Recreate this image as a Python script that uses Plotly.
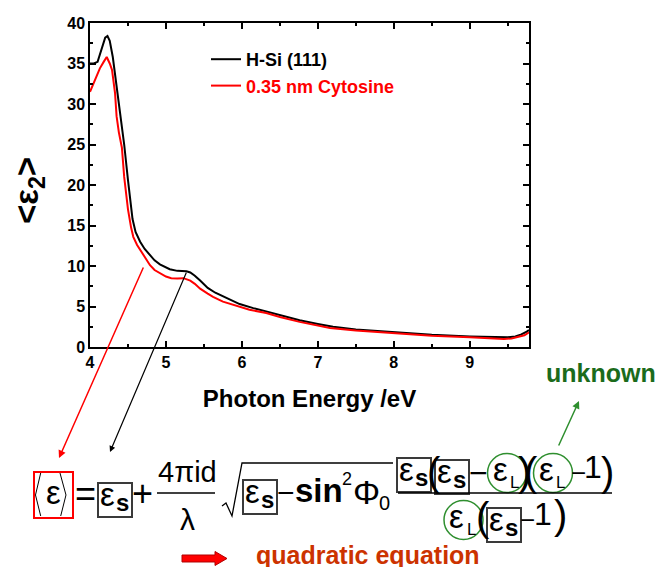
import plotly.graph_objects as go

# ---------------- data ----------------
energy_hsi = [4.00, 4.05, 4.10, 4.15, 4.20, 4.23, 4.26, 4.30, 4.35, 4.40, 4.45, 4.50, 4.53,
              4.56, 4.60, 4.66, 4.72, 4.79, 4.85, 4.92, 5.00, 5.05, 5.15, 5.27, 5.32, 5.38,
              5.45, 5.55, 5.65, 5.80, 5.97, 6.15, 6.32, 6.50, 6.76, 7.00, 7.20, 7.50, 8.00,
              8.50, 9.00, 9.30, 9.50, 9.60, 9.68, 9.75, 9.78]
eps2_hsi = [35.0, 35.0, 35.2, 36.8, 38.2, 38.4, 37.8, 35.8, 32.3, 28.7, 25.0, 20.6, 17.8,
            15.8, 14.2, 13.0, 12.1, 11.3, 10.7, 10.2, 9.8, 9.6, 9.4, 9.35, 9.2, 8.8,
            8.2, 7.3, 6.7, 6.0, 5.3, 4.8, 4.4, 3.9, 3.3, 2.85, 2.5, 2.15, 1.8,
            1.5, 1.3, 1.2, 1.2, 1.3, 1.55, 1.9, 2.1]

energy_cyt = [4.00, 4.05, 4.10, 4.13, 4.18, 4.22, 4.26, 4.29, 4.33, 4.35, 4.38, 4.42, 4.45,
              4.48, 4.50, 4.54, 4.57, 4.62, 4.66, 4.72, 4.79, 4.85, 4.92, 5.00, 5.07, 5.15,
              5.23, 5.32, 5.38, 5.45, 5.55, 5.62, 5.75, 5.89, 6.10, 6.32, 6.50, 6.76, 7.00,
              7.16, 7.50, 8.00, 8.50, 9.00, 9.30, 9.45, 9.55, 9.65, 9.72, 9.78]
eps2_cyt = [31.5, 32.6, 33.8, 34.4, 35.2, 35.8, 35.0, 34.2, 31.3, 28.5, 26.5, 24.6, 21.0,
            18.5, 17.0, 14.8, 13.6, 12.6, 12.0, 11.0, 10.1, 9.5, 9.1, 8.7, 8.5, 8.45,
            8.5, 8.2, 7.8, 7.2, 6.6, 6.2, 5.6, 5.2, 4.6, 4.2, 3.7, 3.1, 2.65,
            2.35, 2.05, 1.7, 1.4, 1.2, 1.05, 1.0, 1.05, 1.25, 1.45, 1.8]

series_names = ["H-Si (111)", "0.35 nm Cytosine"]
series_colors = ["black", "red"]
x_range = [4.0, 9.78]
y_range = [0, 40]

FONT = "Arial, 'Liberation Sans', sans-serif"
W, H = 657, 567
L, R, T, B = 90, 128, 23, 220
PW, PH = W - L - R, H - T - B
BOT = H - B


def px(x):
    return (x - L) / PW


def py(y):
    return (BOT - y) / PH


fig = go.Figure()
fig.add_trace(go.Scatter(x=energy_hsi, y=eps2_hsi, mode="lines",
                         name="<b>%s</b>" % series_names[0],
                         line=dict(color=series_colors[0], width=2)))
fig.add_trace(go.Scatter(x=energy_cyt, y=eps2_cyt, mode="lines",
                         name="<b><span style='color:red'>%s</span></b>" % series_names[1],
                         line=dict(color=series_colors[1], width=2)))

annotations = []
shapes = []


def txt(s, x, y, size, color="black", bold=False, lower=False, angle=0):
    yy = y - (0.087 * size if lower else 0)
    annotations.append(dict(
        text=("<b>%s</b>" % s) if bold else s,
        x=px(x), y=py(yy), xref="paper", yref="paper", showarrow=False,
        xanchor="center", yanchor="middle", textangle=angle,
        font=dict(size=size, color=color, family=FONT)))


def rect(x0, y0, x1, y1, color="#3a3a3a", width=2):
    shapes.append(dict(type="rect", xref="paper", yref="paper",
                       x0=px(x0), x1=px(x1), y0=py(y1), y1=py(y0),
                       line=dict(color=color, width=width)))


def circle(cx, cy, r, color="#2f8f2f", width=1.5):
    shapes.append(dict(type="circle", xref="paper", yref="paper",
                       x0=px(cx - r), x1=px(cx + r), y0=py(cy + r), y1=py(cy - r),
                       line=dict(color=color, width=width)))


def path(pts, color="black", width=1.3, fill=None, closed=False):
    d = "M " + " L ".join("%.5f,%.5f" % (px(a), py(b)) for a, b in pts)
    if closed:
        d += " Z"
    s = dict(type="path", xref="paper", yref="paper", path=d,
             line=dict(color=color, width=width))
    if fill:
        s["fillcolor"] = fill
    shapes.append(s)


def arrow(hx, hy, tx, ty, color, width=1.5):
    annotations.append(dict(
        text="", x=px(hx), y=py(hy), xref="paper", yref="paper",
        ax=tx - hx, ay=ty - hy, axref="pixel", ayref="pixel",
        showarrow=True, arrowhead=2, arrowsize=1, arrowwidth=width,
        arrowcolor=color))


def eps_s(bx, by):
    rect(bx, by, bx + 34, by + 34)
    txt("ε", bx + 9.5, by + 14, 33, lower=True)
    txt("s", bx + 24.5, by + 22, 24, bold=True, lower=True)


def eps_L(cx, cy):
    circle(cx, cy, 19.5)
    txt("ε", cx - 7, cy - 1, 33, lower=True)
    txt("L", cx + 7.5, cy + 9, 17)


# y axis title
txt("&lt;ε<sub>2</sub>&gt;", 29, 191, 33, bold=True, angle=-90)

# ---- formula ----
# <ε>
rect(34, 472, 73, 518, color="red", width=2)
path([(40.7, 473), (35.5, 495), (40.7, 516)], width=1)
path([(60, 473), (66, 495), (60.7, 516)], width=1)
txt("ε", 53, 495, 33, lower=True)
txt("=", 85.5, 493, 36)
eps_s(98, 483)
txt("+", 142.5, 493, 36)
txt("4πid", 187.5, 472, 29)
path([(157, 493), (215, 493)])
txt("λ", 187, 519, 30)
# sqrt
path([(222, 506), (226, 503), (232, 516), (242, 463), (393, 463)])
eps_s(243, 480)
txt("−", 285.5, 492, 30)
txt("sin", 318.5, 493, 33, bold=True, lower=True)
txt("2", 347, 479, 18)
txt("Φ", 366, 492.5, 34)
txt("0", 384.5, 503, 20)
# numerator
eps_s(397, 458)
txt("(", 433.5, 475, 40, lower=True)
eps_s(435, 460)
txt("−", 478, 473, 32)
eps_L(507, 473)
txt(")", 524.5, 475, 40, lower=True)
txt("(", 530.5, 475, 40, lower=True)
eps_L(553, 473)
txt("−", 578, 473, 26)
txt("1", 592.5, 466.5, 32)
txt(")", 607.5, 475, 40, lower=True)
path([(398, 493), (612, 493)])
# denominator
eps_L(463.5, 520)
txt("(", 483, 520, 40, lower=True)
eps_s(487, 508)
txt("−", 527.5, 520, 26)
txt("1", 542.5, 513.5, 32)
txt(")", 560, 518, 40, lower=True)

# labels and arrows
txt("unknown", 600.5, 375, 25, color="#1b6b1b", bold=True, lower=True)
arrow(579, 401, 558, 447, "#2f8f2f", 1.5)
arrow(59, 458, 144, 266, "red", 1.5)
arrow(110, 452, 187, 271, "black", 1.2)
txt("quadratic equation", 367.5, 557.5, 25, color="#cc3300", bold=True, lower=True)
path([(182, 555), (215, 555), (215, 551.5), (227, 558.5), (215, 565.5), (215, 562), (182, 562)],
     color="#b00000", width=1, fill="red", closed=True)

tickfont = dict(size=16, family=FONT, color="black", weight="bold")
axis_common = dict(ticks="inside", ticklen=6, tickwidth=1.5, tickcolor="black",
                   showline=True, linecolor="black", linewidth=1.5, mirror="allticks",
                   showgrid=False, zeroline=False, tickfont=tickfont)

fig.update_layout(
    width=W, height=H,
    margin=dict(l=L, r=R, t=T, b=B, autoexpand=False),
    paper_bgcolor="white", plot_bgcolor="white",
    xaxis=dict(range=x_range, tick0=4, dtick=1,
               minor=dict(dtick=0.5, ticks="inside", ticklen=3, tickwidth=1.5,
                          tickcolor="black", showgrid=False),
               title=dict(text="<b>Photon Energy /eV</b>",
                          font=dict(size=24, family=FONT, color="black"), standoff=20),
               **axis_common),
    yaxis=dict(range=y_range, tick0=0, dtick=5,
               minor=dict(dtick=2.5, ticks="inside", ticklen=3, tickwidth=1.5,
                          tickcolor="black", showgrid=False),
               **axis_common),
    legend=dict(x=px(206), y=py(41), xanchor="left", yanchor="top",
                font=dict(size=18, family=FONT, color="black"),
                bgcolor="rgba(0,0,0,0)", borderwidth=0),
    annotations=annotations,
    shapes=shapes,
)

fig.write_html("out.html")
